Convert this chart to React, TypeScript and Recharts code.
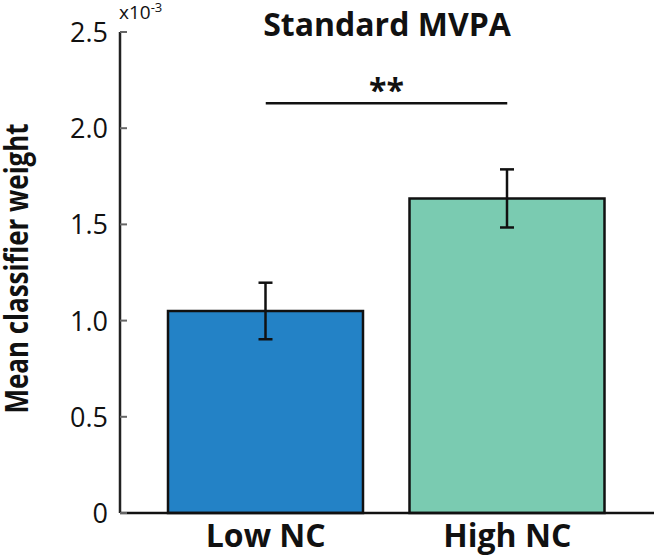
import { BarChart, Bar, XAxis, YAxis, ErrorBar, Cell, ReferenceLine } from "recharts";

const groups = ["Low NC", "High NC"];
const meanWeight = [1.05, 1.635];
const semWeight = [0.147, 0.151];
const barColors = ["#2382c6", "#7acbb1"];
const yTicks = [0, 0.5, 1.0, 1.5, 2.0, 2.5];
const yTickLabels = ["0", "0.5", "1.0", "1.5", "2.0", "2.5"];
const sigLevel = 2.13;

const data = groups.map((g, i) => ({ group: g, weight: meanWeight[i], err: semWeight[i] }));

const FONT = "'Open Sans', 'DejaVu Sans', sans-serif";

function YTick(props: any) {
  const { x, y, index } = props;
  return (
    <g>
      <line x1={x + 12} x2={x + 19} y1={y} y2={y} stroke="#666" strokeWidth={2} />
      <text x={x} y={y} dy={10} textAnchor="end" fontFamily={FONT} fontSize={27} fill="#111">
        {yTickLabels[index]}
      </text>
    </g>
  );
}

function XTick(props: any) {
  const { x, y, payload } = props;
  return (
    <text x={x} y={y} dy={30} textAnchor="middle" fontFamily={FONT} fontWeight={700} fontSize={32} fill="#111">
      {payload.value}
    </text>
  );
}

export default function App() {
  return (
    <div style={{ position: "absolute", left: 0, top: 0, width: 654, height: 557, background: "#fff" }}>
      <BarChart
        width={654}
        height={557}
        data={data}
        margin={{ top: 32, right: 0, bottom: 0, left: 0 }}
        barSize={195}
      >
        <XAxis
          dataKey="group"
          height={44}
          padding={{ left: 25, right: 26 }}
          axisLine={{ stroke: "#111", strokeWidth: 2.5 }}
          tickLine={false}
          tickSize={0}
          tickMargin={4}
          tick={<XTick />}
        />
        <YAxis
          width={120}
          domain={[0, 2.5]}
          ticks={yTicks}
          interval={0}
          axisLine={{ stroke: "#222", strokeWidth: 2.5 }}
          tickLine={false}
          tickSize={0}
          tickMargin={12}
          tick={<YTick />}
          label={{
            content: (p: any) => {
              const vb = p.viewBox;
              const cx = vb.x + 28;
              const cy = vb.y + vb.height / 2 - 4;
              return (
                <text
                  x={cx}
                  y={cy}
                  transform={`rotate(-90 ${cx} ${cy})`}
                  textAnchor="middle"
                  fontFamily={FONT}
                  fontWeight={700}
                  fontSize={32}
                  textLength={290}
                  lengthAdjust="spacingAndGlyphs"
                  fill="#111"
                >
                  Mean classifier weight
                </text>
              );
            },
          }}
        />
        <ReferenceLine
          segment={[
            { x: groups[0], y: sigLevel },
            { x: groups[1], y: sigLevel },
          ]}
          stroke="#111"
          strokeWidth={2.5}
          label={{
            content: (p: any) => {
              const vb = p.viewBox;
              return (
                <text
                  x={vb.x + vb.width / 2}
                  y={vb.y - 1}
                  textAnchor="middle"
                  fontFamily={FONT}
                  fontWeight={700}
                  fontSize={32}
                  fill="#111"
                >
                  **
                </text>
              );
            },
          }}
        />
        <Bar dataKey="weight" stroke="#111" strokeWidth={2.5} isAnimationActive={false}>
          {data.map((d, i) => (
            <Cell key={d.group} fill={barColors[i]} />
          ))}
          <ErrorBar dataKey="err" width={7} stroke="#111" strokeWidth={2.5} direction="y" />
        </Bar>
      </BarChart>
      <svg width={654} height={557} style={{ position: "absolute", left: 0, top: 0, pointerEvents: "none" }}>
        <text x={387} y={36} textAnchor="middle" fontFamily={FONT} fontWeight={700} fontSize={32} fill="#111">
          Standard MVPA
        </text>
        <text x={119} y={19} fontFamily={FONT} fontSize={19} fill="#111">
          x10
          <tspan dy={-7} fontSize={13}>-3</tspan>
        </text>
      </svg>
    </div>
  );
}
